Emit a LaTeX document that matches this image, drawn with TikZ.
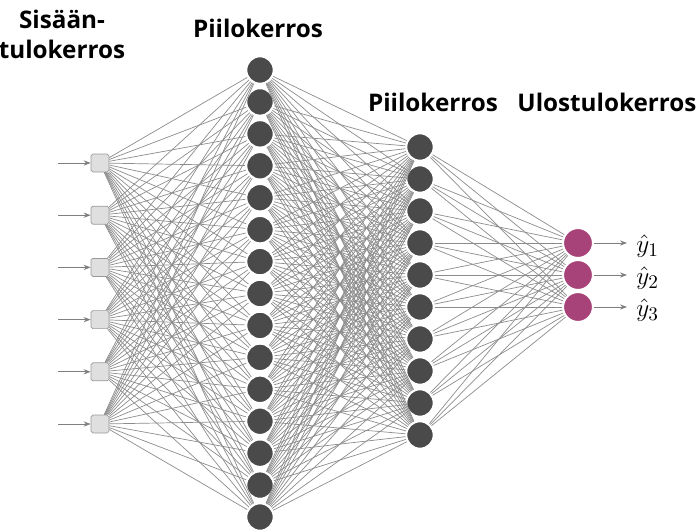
\documentclass[tikz,border=0pt]{standalone}
\usepackage{fontspec}
\setsansfont{Open Sans}
\usetikzlibrary{arrows.meta}
\definecolor{neurongray}{HTML}{4A4A4A}
\definecolor{outpink}{HTML}{A8437A}
\definecolor{wiregray}{HTML}{8C8C8C}
\tikzset{
  inunit/.style={draw=gray!80, fill=gray!25, rounded corners=1pt, minimum size=0.36cm, inner sep=0pt},
  hidunit/.style={circle, draw=white, line width=1.2pt, fill=neurongray, minimum size=0.55cm, inner sep=0pt},
  outunit/.style={circle, draw=white, line width=1.2pt, fill=outpink, minimum size=0.6cm, inner sep=0pt},
  wire/.style={draw=wiregray, line width=0.4pt},
  feed/.style={draw=gray, line width=0.5pt, -{Stealth[length=4pt,width=3pt]}},
  layername/.style={font=\sffamily\bfseries\fontsize{13.8}{17}\selectfont, align=center, inner sep=0pt}
}
\begin{document}
\begin{tikzpicture}[x=0.02cm, y=-0.02cm]
\useasboundingbox (0,0) rectangle (700,531);
% layers
\foreach \i in {1,...,6}
  \node[inunit] (x\i) at (100, {163+52.2*(\i-1)}) {};
\foreach \i in {1,...,15}
  \node[hidunit] (a\i) at (260, {70+31.93*(\i-1)}) {};
\foreach \i in {1,...,10}
  \node[hidunit] (b\i) at (420, {147+32*(\i-1)}) {};
\foreach \i in {1,2,3}
  \node[outunit] (c\i) at (578, {243+32*(\i-1)}) {};
% weights
\foreach \i in {1,...,6}
  \foreach \j in {1,...,15}
    \draw[wire] (x\i) -- (a\j);
\foreach \i in {1,...,15}
  \foreach \j in {1,...,10}
    \draw[wire] (a\i) -- (b\j);
\foreach \i in {1,...,10}
  \foreach \j in {1,2,3}
    \draw[wire] (b\i) -- (c\j);
% in / out arrows
\foreach \i in {1,...,6} {
  \coordinate (s\i) at (58, {163+52.2*(\i-1)});
  \draw[feed] (s\i) -- (x\i);
}
\foreach \i in {1,2,3} {
  \coordinate (e\i) at (627, {243+32*(\i-1)});
  \draw[feed] (c\i) -- (e\i);
  \node[anchor=west, font=\fontsize{15}{18}\selectfont, inner sep=0pt] (yhat\i) at (636, {246+32*(\i-1)}) {$\hat{y}_{\i}$};
}
% titles
\node[layername] (tin) at (62, 34) {Sisään-\\tulokerros};
\node[layername] (th1) at (258, 28) {Piilokerros};
\node[layername] (th2) at (433, 102) {Piilokerros};
\node[layername] (tout) at (607, 102) {Ulostulokerros};
\end{tikzpicture}
\end{document}
